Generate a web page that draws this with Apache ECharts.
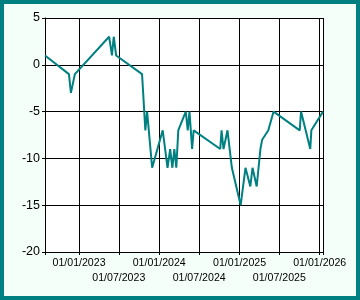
<!DOCTYPE html>
<html><head><meta charset="utf-8">
<script src="https://cdn.jsdelivr.net/npm/echarts@6/dist/echarts.min.js"></script>
<style>
html,body{margin:0;padding:0;background:#f5fffa;}
#frame{width:360px;height:300px;box-sizing:border-box;border:4px solid #008080;background:#f5fffa;}
#chart{width:352px;height:292px;}
</style></head><body>
<div id="frame"><div id="chart"></div></div>
<script>
const dates = ['2022-07-30','2022-11-16','2022-11-25','2022-12-13','2023-05-18','2023-05-31','2023-06-08','2023-06-19','2023-10-15','2023-10-30','2023-11-07','2023-11-30','2024-01-17','2024-02-08','2024-02-20','2024-03-01','2024-03-10','2024-03-19','2024-03-28','2024-05-01','2024-05-10','2024-05-18','2024-05-30','2024-06-06','2024-10-05','2024-10-11','2024-10-20','2024-11-07','2024-11-27','2025-01-06','2025-01-28','2025-02-19','2025-03-01','2025-03-20','2025-04-06','2025-04-14','2025-05-12','2025-06-05','2025-10-02','2025-10-08','2025-11-19','2025-11-24','2026-01-16'];
const values = [1,-1,-3,-1,3,1,3,1,-1,-7,-5,-11,-7,-11,-9,-11,-9,-11,-7,-5,-7,-5,-9,-7,-9,-7,-9,-7,-11,-15,-11,-13,-11,-13,-9,-8,-7,-5,-7,-5,-9,-7,-5];
const yMin = -20, yMax = 5, yStep = 5;
const xTickLabels = ['01/01/2023','01/07/2023','01/01/2024','01/07/2024','01/01/2025','01/07/2025','01/01/2026'];

function pad(n){return (n<10?'0':'')+n;}
const chart = echarts.init(document.getElementById('chart'));
const HALF_YEAR = 182*86400000;
chart.setOption({
  animation:false,
  grid:{left:41,right:33,top:14,bottom:44,show:true,backgroundColor:'#ffffff',borderWidth:0,outerBoundsMode:'none'},
  xAxis:{
    type:'time', min:'dataMin', max:'dataMax',
    minInterval:HALF_YEAR, maxInterval:HALF_YEAR, splitNumber:7,
    axisLine:{show:true,onZero:false,lineStyle:{color:'#000',width:1}},
    axisTick:{show:true,length:3,lineStyle:{color:'#000'}},
    splitLine:{show:true,lineStyle:{color:'#000',width:1}},
    axisLabel:{
      showMinLabel:true, showMaxLabel:true, hideOverlap:false,
      fontSize:10.6, fontFamily:'Liberation Sans', color:'#000', margin:4, lineHeight:14.5,
      formatter:function(v){
        const d = new Date(v);
        const s = pad(d.getDate())+'/'+pad(d.getMonth()+1)+'/'+d.getFullYear();
        const i = xTickLabels.indexOf(s);
        if(i<0) return '';
        return (i%2===1?'\n':'')+s;
      }
    }
  },
  yAxis:{
    type:'value', min:yMin, max:yMax, interval:yStep,
    axisLine:{show:true,lineStyle:{color:'#000',width:1}},
    axisTick:{show:true,length:3,lineStyle:{color:'#000'}},
    splitLine:{show:true,lineStyle:{color:'#000',width:1}},
    axisLabel:{fontSize:12.5,fontFamily:'Liberation Sans',color:'#000',margin:5}
  },
  series:[{
    type:'line', showSymbol:false, symbol:'none',
    data: dates.map((d,i)=>[d,values[i]]),
    lineStyle:{color:'#008080',width:2}
  }]
});
</script>
</body></html>
